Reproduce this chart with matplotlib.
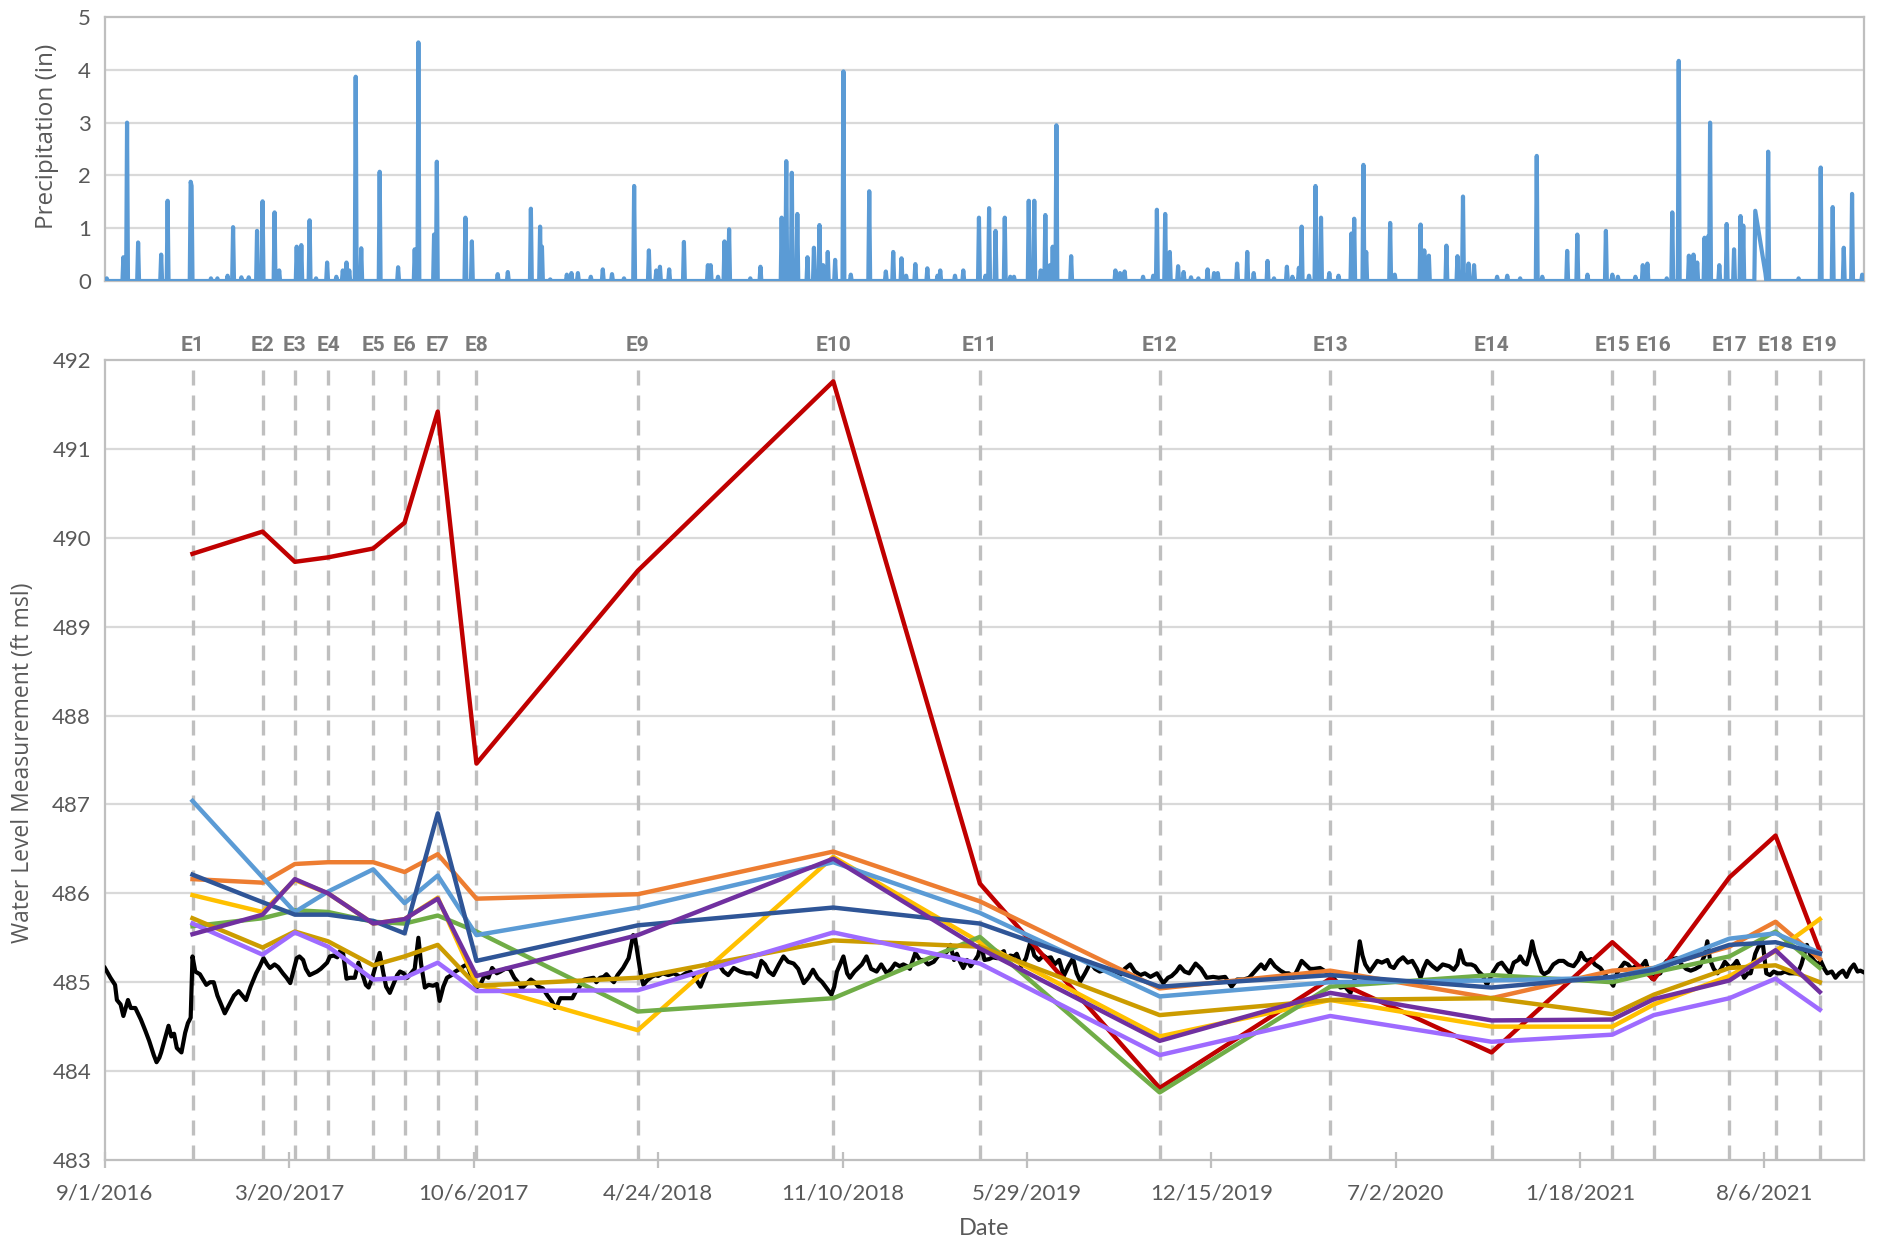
import numpy as np
import pandas as pd
import matplotlib
matplotlib.use("Agg")
import matplotlib.pyplot as plt
from matplotlib.transforms import blended_transform_factory

# ---------------- data ----------------
start_date = "2016-09-01"
end_day = 1908                     # last day shown on the time axis
tick_step_days = 200

# sampling events
event_labels = ["E1", "E2", "E3", "E4", "E5", "E6", "E7", "E8", "E9", "E10",
                "E11", "E12", "E13", "E14", "E15", "E16", "E17", "E18", "E19"]
event_dates = ["2016-12-05", "2017-02-19", "2017-03-26", "2017-05-01", "2017-06-19",
               "2017-07-23", "2017-08-28", "2017-10-09", "2018-04-02", "2018-10-31",
               "2019-04-08", "2019-10-20", "2020-04-22", "2020-10-14", "2021-02-22",
               "2021-04-08", "2021-06-29", "2021-08-18", "2021-10-05"]

# water levels (ft msl) measured at each event
well_1 = [489.82, 490.07, 489.73, 489.78, 489.88, 490.17, 491.42, 487.46, 489.63, 491.76,
          486.11, 483.81, 485.04, 484.21, 485.45, 485.03, 486.18, 486.65, 485.35]
well_2 = [486.16, 486.12, 486.33, 486.35, 486.35, 486.24, 486.44, 485.94, 485.99, 486.47,
          485.91, 484.93, 485.13, 484.82, 485.13, 485.16, 485.40, 485.68, 485.26]
well_3 = [485.98, 485.79, 486.15, 486.00, 485.66, 485.71, 485.95, 484.98, 484.46, 486.41,
          485.45, 484.39, 484.80, 484.50, 484.50, 484.75, 485.07, 485.35, 485.71]
well_4 = [485.63, 485.72, 485.81, 485.79, 485.68, 485.66, 485.75, 485.57, 484.67, 484.82,
          485.51, 483.76, 484.95, 485.08, 485.00, 485.11, 485.29, 485.57, 485.16]
well_5 = [487.04, 486.18, 485.79, 486.02, 486.27, 485.89, 486.20, 485.53, 485.84, 486.35,
          485.78, 484.84, 485.00, 485.02, 485.05, 485.16, 485.49, 485.55, 485.33]
well_6 = [485.72, 485.39, 485.57, 485.46, 485.19, 485.29, 485.42, 484.96, 485.05, 485.47,
          485.40, 484.63, 484.80, 484.82, 484.64, 484.86, 485.16, 485.19, 485.00]
well_7 = [485.66, 485.31, 485.56, 485.40, 485.03, 485.05, 485.22, 484.90, 484.91, 485.56,
          485.21, 484.18, 484.62, 484.33, 484.41, 484.63, 484.82, 485.04, 484.69]
well_8 = [486.21, 485.90, 485.76, 485.76, 485.69, 485.55, 486.90, 485.24, 485.64, 485.84,
          485.66, 484.95, 485.08, 484.94, 485.06, 485.14, 485.42, 485.45, 485.32]
well_9 = [485.54, 485.76, 486.16, 486.00, 485.66, 485.71, 485.94, 485.07, 485.53, 486.39,
          485.38, 484.34, 484.88, 484.57, 484.58, 484.81, 485.02, 485.36, 484.89]

# continuous logger record: days since start and level (ft msl)
logger_day = [
    0, 6, 11, 13, 17, 20, 25, 28, 33, 39, 44, 48, 53, 56, 59, 61, 66, 69, 72, 75,
    78, 83, 87, 90, 93, 95, 98, 103, 107, 110, 114, 118, 122, 126, 130, 135, 140, 145, 149, 153,
    158, 164, 168, 172, 176, 179, 184, 188, 193, 197, 201, 205, 208, 211, 215, 218, 222, 226, 230, 234,
    237, 241, 244, 248, 252, 255, 258, 262, 266, 271, 275, 279, 283, 286, 290, 294, 298, 302, 305, 309,
    313, 317, 320, 324, 328, 332, 336, 340, 343, 347, 351, 356, 360, 363, 367, 371, 376, 380, 385, 389,
    393, 398, 403, 407, 412, 416, 420, 425, 429, 434, 439, 444, 448, 452, 457, 462, 466, 470, 475, 480,
    485, 488, 491, 494, 500, 507, 511, 514, 517, 520, 525, 530, 533, 537, 541, 544, 548, 552, 556, 562,
    568, 573, 575, 578, 581, 584, 588, 593, 597, 600, 605, 611, 617, 624, 630, 635, 640, 646, 651, 656,
    661, 666, 671, 676, 682, 689, 696, 701, 707, 712, 716, 720, 725, 731, 736, 741, 747, 752, 758, 763,
    768, 773, 778, 783, 788, 791, 794, 801, 805, 808, 813, 817, 821, 826, 831, 837, 842, 848, 853, 857,
    862, 866, 870, 873, 879, 884, 888, 893, 899, 904, 910, 914, 917, 921, 924, 928, 931, 935, 939, 944,
    947, 950, 954, 959, 963, 968, 971, 975, 978, 982, 986, 989, 994, 999, 1004, 1008, 1013, 1018, 1022, 1026,
    1030, 1035, 1040, 1045, 1050, 1054, 1058, 1063, 1069, 1074, 1079, 1085, 1090, 1096, 1101, 1106, 1112, 1117, 1123, 1128,
    1134, 1141, 1148, 1153, 1157, 1162, 1166, 1171, 1176, 1183, 1189, 1195, 1202, 1208, 1215, 1222, 1228, 1235, 1241, 1247,
    1254, 1258, 1264, 1269, 1275, 1280, 1284, 1289, 1294, 1298, 1302, 1307, 1311, 1318, 1324, 1330, 1336, 1340, 1345, 1351,
    1356, 1361, 1364, 1367, 1372, 1376, 1380, 1385, 1391, 1394, 1398, 1403, 1408, 1413, 1418, 1423, 1427, 1430, 1434, 1440,
    1445, 1451, 1458, 1463, 1467, 1470, 1474, 1477, 1482, 1486, 1490, 1494, 1499, 1503, 1506, 1511, 1515, 1520, 1524, 1528,
    1533, 1535, 1539, 1542, 1545, 1548, 1551, 1554, 1558, 1561, 1566, 1571, 1577, 1582, 1587, 1593, 1598, 1601, 1605, 1608,
    1612, 1616, 1622, 1626, 1630, 1636, 1640, 1643, 1648, 1652, 1656, 1660, 1664, 1668, 1671, 1675, 1678, 1683, 1687, 1691,
    1694, 1700, 1705, 1710, 1715, 1720, 1725, 1730, 1735, 1738, 1741, 1745, 1749, 1753, 1757, 1763, 1767, 1770, 1774, 1778,
    1782, 1785, 1790, 1793, 1798, 1802, 1806, 1810, 1814, 1818, 1822, 1827, 1832, 1836, 1840, 1846, 1850, 1854, 1858, 1861,
    1865, 1868, 1873, 1877, 1881, 1885, 1889, 1893, 1897, 1901, 1904, 1908]
logger_level = [
    485.16, 485.05, 484.97, 484.80, 484.75, 484.62, 484.80, 484.71, 484.71, 484.58, 484.45, 484.34, 484.18, 484.10, 484.15, 484.21, 484.40, 484.51, 484.39, 484.42,
    484.26, 484.21, 484.43, 484.54, 484.60, 485.29, 485.12, 485.09, 485.02, 484.97, 485.00, 485.00, 484.85, 484.75, 484.65, 484.75, 484.85, 484.90, 484.85, 484.80,
    484.95, 485.10, 485.18, 485.27, 485.20, 485.16, 485.20, 485.17, 485.10, 485.05, 484.99, 485.15, 485.27, 485.29, 485.25, 485.15, 485.08, 485.10, 485.12, 485.15,
    485.18, 485.22, 485.29, 485.30, 485.28, 485.35, 485.35, 485.04, 485.05, 485.05, 485.22, 485.10, 484.97, 484.94, 485.05, 485.20, 485.33, 485.10, 484.95, 484.88,
    484.98, 485.08, 485.12, 485.10, 485.05, 485.10, 485.15, 485.50, 485.20, 484.94, 484.97, 484.96, 484.98, 484.79, 484.95, 485.05, 485.08, 485.12, 485.15, 485.18,
    485.20, 485.05, 484.94, 484.97, 485.08, 485.05, 485.16, 485.10, 485.12, 485.15, 485.15, 485.05, 485.00, 484.93, 484.98, 485.03, 485.00, 484.95, 484.93, 484.85,
    484.78, 484.71, 484.75, 484.82, 484.82, 484.82, 484.90, 484.93, 485.00, 485.03, 485.04, 485.05, 485.00, 485.05, 485.06, 485.09, 485.04, 485.00, 485.08, 485.16,
    485.27, 485.53, 485.50, 485.30, 485.10, 484.97, 485.02, 485.06, 485.08, 485.07, 485.10, 485.08, 485.10, 485.06, 485.10, 485.12, 485.05, 484.95, 485.08, 485.21,
    485.20, 485.20, 485.12, 485.08, 485.16, 485.12, 485.10, 485.10, 485.06, 485.24, 485.20, 485.12, 485.08, 485.20, 485.29, 485.23, 485.21, 485.15, 484.99, 485.05,
    485.14, 485.05, 485.00, 484.93, 484.86, 484.95, 485.12, 485.29, 485.10, 485.05, 485.12, 485.16, 485.20, 485.29, 485.15, 485.12, 485.20, 485.10, 485.15, 485.21,
    485.18, 485.20, 485.18, 485.15, 485.33, 485.25, 485.25, 485.20, 485.23, 485.30, 485.31, 485.35, 485.42, 485.25, 485.32, 485.22, 485.16, 485.25, 485.18, 485.25,
    485.30, 485.43, 485.25, 485.26, 485.28, 485.27, 485.32, 485.35, 485.23, 485.30, 485.29, 485.32, 485.18, 485.27, 485.46, 485.30, 485.25, 485.30, 485.27, 485.28,
    485.20, 485.25, 485.07, 485.18, 485.27, 485.10, 485.01, 485.10, 485.22, 485.15, 485.12, 485.14, 485.13, 485.10, 485.08, 485.15, 485.20, 485.12, 485.08, 485.10,
    485.06, 485.10, 484.99, 485.05, 485.07, 485.12, 485.18, 485.12, 485.10, 485.21, 485.15, 485.05, 485.06, 485.05, 485.06, 484.95, 485.03, 485.03, 485.05, 485.12,
    485.20, 485.15, 485.25, 485.18, 485.13, 485.10, 485.10, 485.05, 485.15, 485.24, 485.20, 485.15, 485.15, 485.16, 485.12, 485.09, 485.00, 484.94, 484.95, 484.88,
    485.05, 485.46, 485.30, 485.20, 485.12, 485.18, 485.24, 485.22, 485.25, 485.18, 485.16, 485.24, 485.28, 485.22, 485.24, 485.15, 485.05, 485.15, 485.24, 485.18,
    485.14, 485.20, 485.18, 485.14, 485.20, 485.36, 485.22, 485.20, 485.20, 485.18, 485.12, 485.08, 484.97, 485.06, 485.12, 485.20, 485.22, 485.15, 485.10, 485.22,
    485.25, 485.29, 485.22, 485.20, 485.30, 485.46, 485.32, 485.24, 485.12, 485.09, 485.12, 485.20, 485.24, 485.24, 485.20, 485.18, 485.25, 485.33, 485.26, 485.24,
    485.26, 485.20, 485.16, 485.10, 485.05, 484.96, 485.10, 485.15, 485.22, 485.20, 485.15, 485.18, 485.14, 485.20, 485.24, 485.10, 485.04, 485.08, 485.10, 485.20,
    485.24, 485.26, 485.27, 485.20, 485.15, 485.13, 485.15, 485.18, 485.30, 485.46, 485.25, 485.15, 485.10, 485.15, 485.23, 485.16, 485.20, 485.24, 485.15, 485.05,
    485.10, 485.10, 485.32, 485.39, 485.45, 485.10, 485.08, 485.12, 485.10, 485.10, 485.12, 485.10, 485.10, 485.10, 485.20, 485.42, 485.30, 485.24, 485.20, 485.24,
    485.15, 485.10, 485.12, 485.05, 485.10, 485.13, 485.06, 485.15, 485.20, 485.12, 485.13, 485.11]

# daily precipitation (in): rain days (days since start) and amounts; other days are dry
rain_day = [
    2, 20, 24, 36, 61, 68, 93, 94, 115, 122, 133, 139, 148, 156, 165, 171, 184, 189, 208, 213,
    222, 229, 241, 251, 258, 262, 265, 272, 278, 298, 318, 336, 340, 357, 360, 391, 398, 426, 437, 462,
    472, 474, 483, 501, 506, 513, 527, 540, 550, 563, 574, 590, 598, 602, 612, 628, 654, 657, 665, 672,
    677, 700, 711, 734, 739, 745, 751, 762, 769, 775, 779, 784, 792, 801, 809, 829, 847, 855, 864, 869,
    879, 892, 903, 906, 922, 931, 948, 955, 959, 966, 976, 982, 986, 1002, 1008, 1015, 1020, 1025, 1028, 1032,
    1048, 1096, 1101, 1106, 1126, 1137, 1141, 1150, 1155, 1164, 1170, 1178, 1186, 1196, 1203, 1207, 1228, 1239, 1246, 1261,
    1268, 1282, 1288, 1295, 1298, 1306, 1313, 1319, 1328, 1338, 1352, 1355, 1365, 1368, 1394, 1399, 1427, 1431, 1436, 1455,
    1467, 1473, 1479, 1485, 1510, 1521, 1535, 1553, 1559, 1586, 1597, 1608, 1628, 1635, 1641, 1660, 1668, 1673, 1694, 1700,
    1707, 1718, 1723, 1727, 1735, 1739, 1741, 1751, 1759, 1767, 1774, 1777, 1790, 1801, 1804, 1837, 1861, 1874, 1886, 1895,
    1906]
rain_amount = [
    0.05, 0.45, 3.00, 0.73, 0.50, 1.52, 1.88, 1.80, 0.05, 0.05, 0.10, 1.02, 0.07, 0.07, 0.95, 1.51, 1.30, 0.20, 0.65, 0.68,
    1.15, 0.05, 0.35, 0.08, 0.20, 0.35, 0.20, 3.87, 0.62, 2.07, 0.26, 0.60, 4.52, 0.88, 2.26, 1.20, 0.75, 0.13, 0.17, 1.37,
    1.03, 0.65, 0.03, 0.12, 0.15, 0.15, 0.08, 0.22, 0.13, 0.05, 1.80, 0.58, 0.20, 0.27, 0.22, 0.74, 0.30, 0.30, 0.08, 0.75,
    0.98, 0.05, 0.27, 1.20, 2.27, 2.05, 1.27, 0.45, 0.63, 1.06, 0.30, 0.55, 0.40, 3.97, 0.12, 1.70, 0.18, 0.55, 0.43, 0.10,
    0.32, 0.24, 0.10, 0.20, 0.10, 0.20, 1.20, 0.10, 1.38, 0.95, 1.20, 0.08, 0.08, 1.52, 1.52, 0.20, 1.25, 0.30, 0.65, 2.95,
    0.47, 0.20, 0.15, 0.18, 0.08, 0.10, 1.35, 1.27, 0.55, 0.28, 0.17, 0.07, 0.05, 0.22, 0.15, 0.15, 0.33, 0.55, 0.15, 0.38,
    0.05, 0.27, 0.08, 0.25, 1.03, 0.10, 1.80, 1.20, 0.15, 0.10, 0.90, 1.18, 2.20, 0.55, 1.10, 0.12, 1.07, 0.58, 0.48, 0.67,
    0.47, 1.60, 0.33, 0.30, 0.08, 0.10, 0.05, 2.37, 0.08, 0.57, 0.88, 0.12, 0.95, 0.12, 0.08, 0.08, 0.30, 0.33, 0.05, 1.30,
    4.17, 0.48, 0.50, 0.35, 0.82, 0.85, 3.00, 0.30, 1.08, 0.60, 1.23, 1.05, 1.33, 0.15, 2.45, 0.05, 2.15, 1.40, 0.63, 1.65,
    0.12]
rain_gap_days = (1791, 1800)       # no record between these days

# ---------------- styling ----------------
well_colors = ["#C00000", "#ED7D31", "#FFC000", "#70AD47", "#5B9BD5",
               "#CC9C00", "#9E6BFF", "#2F5597", "#7030A0"]
grid_color = "#D9D9D9"
axis_color = "#BFBFBF"
text_color = "#595959"
narrow = ["Lato", "DejaVu Sans"]
wide = ["Open Sans", "DejaVu Sans"]
bold_label = ["Roboto", "DejaVu Sans"]

t0 = pd.Timestamp(start_date)
x_end = t0 + pd.Timedelta(days=end_day)
ev_dt = pd.to_datetime(event_dates)
log_dt = t0 + pd.to_timedelta(logger_day, unit="D")

# daily precipitation record
all_days = np.arange(0, end_day + 1)
rain = np.zeros(all_days.size)
rain[np.array(rain_day)] = rain_amount
keep = (all_days < rain_gap_days[0]) | (all_days > rain_gap_days[1])
rain_dt = t0 + pd.to_timedelta(all_days[keep], unit="D")
rain_vals = rain[keep]

fig = plt.figure(figsize=(18.77, 12.45), dpi=100)
ax_p = fig.add_axes([0.0559, 0.7743, 0.9372, 0.2120])
ax_w = fig.add_axes([0.0559, 0.0683, 0.9372, 0.6425])

# ---- precipitation panel ----
ax_p.plot(rain_dt, rain_vals, color="#5B9BD5", lw=3.0, solid_joinstyle="round", zorder=3)
ax_p.set_xlim(t0, x_end)
ax_p.set_ylim(0, 5)
ax_p.set_yticks(range(0, 6))
ax_p.set_xticks([])
for v in range(1, 5):
    ax_p.axhline(v, color=grid_color, lw=1.6, zorder=1)
for s in ax_p.spines.values():
    s.set_color(axis_color)
    s.set_linewidth(1.6)
ax_p.tick_params(axis="y", length=0, pad=10, labelsize=16, labelcolor=text_color)
for lab in ax_p.get_yticklabels():
    lab.set_family(narrow)
ax_p.set_ylabel("Precipitation (in)", fontsize=17.5, color=text_color, family=wide)
ax_p.yaxis.set_label_coords(-0.026, 0.547)

# ---- water level panel ----
ax_w.set_xlim(t0, x_end)
ax_w.set_ylim(483, 492)
ax_w.set_yticks(range(483, 493))
for v in range(484, 492):
    ax_w.axhline(v, color=grid_color, lw=1.6, zorder=1)
for s in ax_w.spines.values():
    s.set_color(axis_color)
    s.set_linewidth(1.6)

for d in ev_dt:
    ax_w.axvline(d, color=axis_color, lw=2.4, dashes=(4.5, 3), zorder=2)

ax_w.plot(log_dt, logger_level, color="black", lw=3.0, zorder=3)
for vals, col in zip([well_1, well_2, well_3, well_4, well_5, well_6, well_7, well_8, well_9],
                     well_colors):
    ax_w.plot(ev_dt, vals, color=col, lw=3.2, zorder=4)

trans = blended_transform_factory(ax_w.transData, ax_w.transAxes)
for d, lab in zip(ev_dt, event_labels):
    ax_w.text(d, 1.018, lab, transform=trans, ha="center", va="center",
              fontsize=15, fontweight="bold", color="#7A7A7A", family=bold_label)

tick_dt = pd.date_range(t0, x_end, freq=f"{tick_step_days}D")
ax_w.set_xticks(tick_dt)
ax_w.set_xticklabels([f"{d.month}/{d.day}/{d.year}" for d in tick_dt])
ax_w.tick_params(axis="x", direction="inout", length=12, width=1.6, color=axis_color,
                 pad=11, labelsize=16, labelcolor=text_color)
ax_w.tick_params(axis="y", length=0, pad=10, labelsize=16, labelcolor=text_color)
for lab in ax_w.get_xticklabels() + ax_w.get_yticklabels():
    lab.set_family(narrow)

ax_w.set_xlabel("Date", fontsize=17, color=text_color, family=narrow)
ax_w.xaxis.set_label_coords(0.5, -0.072)
ax_w.set_ylabel("Water Level Measurement (ft msl)", fontsize=16.5, color=text_color, family=wide)
ax_w.yaxis.set_label_coords(-0.040, 0.496)

fig.savefig("out.png", dpi=100, facecolor="white")
